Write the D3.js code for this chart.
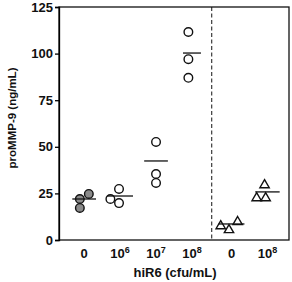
<!DOCTYPE html>
<html>
<head>
<meta charset="utf-8">
<script src="https://cdn.jsdelivr.net/npm/d3@7"></script>
<style>
  body { margin: 0; background: #fff; }
  text { font-family: "Liberation Sans", Arial, sans-serif; font-weight: bold; fill: #111; }
</style>
</head>
<body>
<script>
// groups along the x axis (exponent null -> plain "0")
var groups = ["0", "1e6", "1e7", "1e8", "B0", "B1e8"],
    groupBase = ["0", "10", "10", "10", "0", "10"],
    groupExp = ["", "6", "7", "8", "", "8"];

// measured proMMP-9 values, ng/mL
var pointValues = [
    [22, 24.7, 17.2],
    [22, 27.4, 19.8],
    [52.6, 35.4, 30.6],
    [111.6, 97, 87],
    [7.5, 5.4, 9.7],
    [29.5, 22.5, 22.5]
];
// small horizontal jitter of each point, in group units
var pointJitter = [
    [-0.12, 0.13, -0.12],
    [-0.27, -0.03, -0.03],
    [0, 0, 0],
    [-0.1, -0.1, -0.1],
    [-0.3, -0.07, 0.17],
    [-0.08, -0.3, -0.05]
];
var means = [22, 23.6, 42.4, 100.3, 8.6, 25.8];
var markerType = ["filled", "open", "open", "open", "tri", "tri"];
var yTicks = [0, 25, 50, 75, 100, 125];

var margin = {left: 59, top: 7, right: 3, bottom: 42},
    width = 292,
    height = 282;

var svg = d3.select("body").append("svg")
    .attr("width", width)
    .attr("height", height);

// second block sits a bit further right, after the dashed divider
function slot(i) { return i < 4 ? i : i + 0.1; }

var x = d3.scaleLinear()
        .domain([-0.7, 5.7])
        .range([margin.left, width - margin.right]),
    y = d3.scaleLinear()
        .domain([0, 125])
        .range([height - margin.bottom, margin.top]);

// frame
svg.append("rect")
    .attr("x", x(-0.7)).attr("y", y(125))
    .attr("width", x(5.7) - x(-0.7))
    .attr("height", y(0) - y(125))
    .attr("fill", "none").attr("stroke", "#111").attr("stroke-width", 1.3);

// divider
svg.append("line")
    .attr("x1", x(3.55)).attr("x2", x(3.55))
    .attr("y1", y(125)).attr("y2", y(0))
    .attr("stroke", "#111").attr("stroke-dasharray", "4,2.5").attr("stroke-width", 1);

// y axis
var yAxis = d3.axisLeft(y).tickValues(yTicks).tickSize(4).tickPadding(2);
var gy = svg.append("g")
    .attr("transform", "translate(" + margin.left + ",0)")
    .call(yAxis);
gy.select(".domain").attr("stroke-width", 1.3);
gy.selectAll(".tick line").attr("stroke-width", 1.3);
gy.selectAll("text").style("font-size", "13px")
    .style("font-family", "Liberation Sans, Arial, sans-serif").style("font-weight", "bold")
    .attr("fill", "#111");

// x labels
var xl = svg.append("g").selectAll("text")
    .data(groups)
  .enter().append("text")
    .attr("x", function(d, i) { return x(slot(i)); })
    .attr("y", 258)
    .attr("text-anchor", "middle")
    .style("font-size", "13px");
xl.append("tspan").text(function(d, i) { return groupBase[i]; });
xl.append("tspan")
    .attr("dy", -5)
    .style("font-size", "9px")
    .text(function(d, i) { return groupExp[i]; });

// axis titles
svg.append("text")
    .attr("x", 175).attr("y", 277)
    .attr("text-anchor", "middle")
    .style("font-size", "13px")
    .text("hiR6 (cfu/mL)");
svg.append("text")
    .attr("transform", "translate(16,118) rotate(-90)")
    .attr("text-anchor", "middle")
    .style("font-size", "11.5px")
    .text("proMMP-9 (ng/mL)");

// points
var pts = [];
pointValues.forEach(function(vals, i) {
    vals.forEach(function(v, j) {
        pts.push({g: i, v: v, dx: pointJitter[i][j], type: markerType[i]});
    });
});

svg.selectAll(".circ")
    .data(pts.filter(function(d) { return d.type !== "tri"; }))
  .enter().append("circle")
    .attr("class", "circ")
    .attr("cx", function(d) { return x(slot(d.g) + d.dx); })
    .attr("cy", function(d) { return y(d.v); })
    .attr("r", 4.3)
    .attr("fill", function(d) { return d.type === "filled" ? "#8a8a8a" : "#fff"; })
    .attr("stroke", "#111")
    .attr("stroke-width", 1.4);

var tri = d3.symbol().type(d3.symbolTriangle).size(38);
svg.selectAll(".tri")
    .data(pts.filter(function(d) { return d.type === "tri"; }))
  .enter().append("path")
    .attr("class", "tri")
    .attr("d", tri)
    .attr("transform", function(d) { return "translate(" + x(slot(d.g) + d.dx) + "," + y(d.v) + ")"; })
    .attr("fill", "#fff")
    .attr("stroke", "#111")
    .attr("stroke-width", 1.4);

// mean bars
var halfW = [0.33, 0.36, 0.33, 0.25, 0.36, 0.34];
svg.selectAll(".mean")
    .data(means)
  .enter().append("line")
    .attr("class", "mean")
    .attr("x1", function(d, i) { return x(slot(i) - halfW[i]); })
    .attr("x2", function(d, i) { return x(slot(i) + halfW[i]); })
    .attr("y1", function(d) { return y(d); })
    .attr("y2", function(d) { return y(d); })
    .attr("stroke", "#111")
    .attr("stroke-width", 1.3);
</script>
</body>
</html>
